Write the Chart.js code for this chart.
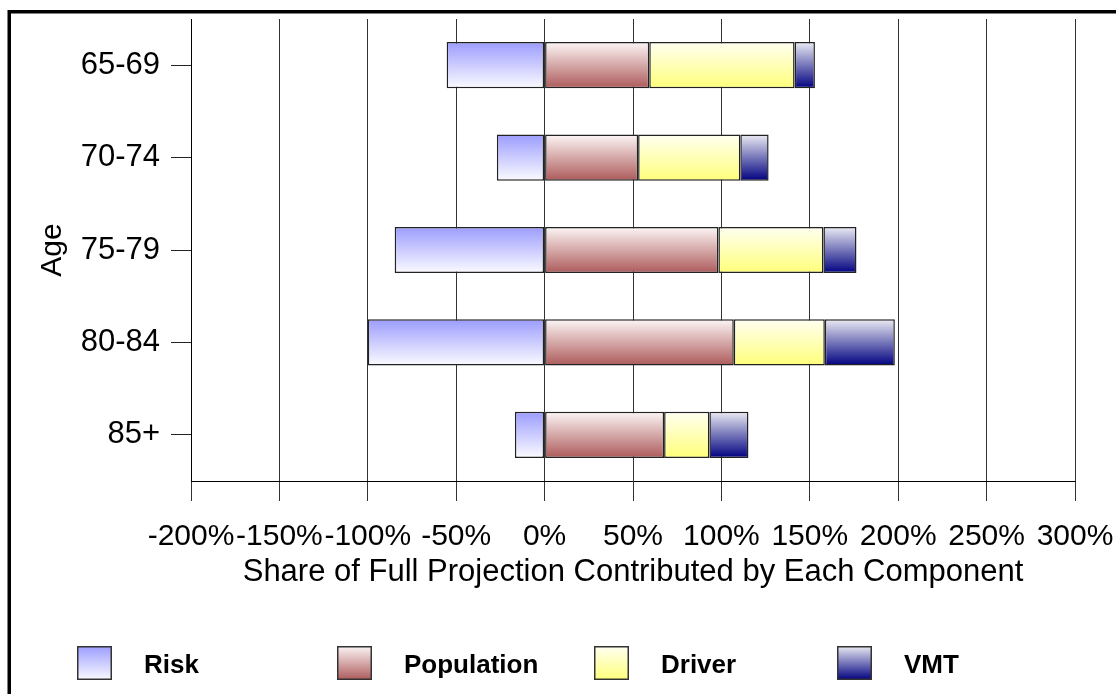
<!DOCTYPE html>
<html><head><meta charset="utf-8">
<script src="https://cdn.jsdelivr.net/npm/chart.js@4"></script>
<style>html,body{margin:0;padding:0;background:#fff;}#wrap{width:1116px;height:694px;position:relative;}</style>
</head><body><div id="wrap"><canvas id="c" width="1116" height="694"></canvas></div>
<script>
const ageGroups = ['65-69', '70-74', '75-79', '80-84', '85+'];
const seriesNames = ['Risk', 'Population', 'Driver', 'VMT'];
const riskValues = [-55.4, -27.0, -84.8, -100.0, -16.8];
const populationValues = [59.2, 52.9, 98.3, 107.0, 67.6];
const driverValues = [82.2, 57.8, 59.4, 51.5, 25.6];
const vmtValues = [11.5, 16.0, 18.7, 39.6, 22.1];
const xTickValues = [-200, -150, -100, -50, 0, 50, 100, 150, 200, 250, 300];

const gradStops = [
  ['#9c9cff', '#fbfbff'],
  ['#fdf6f6', '#ad5a5a'],
  ['#fffff2', '#ffff7a'],
  ['#ececf4', '#000080']
];
const fontFam = "'Liberation Sans', Arial, Helvetica, sans-serif";

function barGradient(i) {
  return function (ctx) {
    const chart = ctx.chart;
    const ys = chart.scales.y;
    if (!ys || !chart.chartArea || ctx.type !== 'data') return gradStops[i][1];
    const yc = ys.getPixelForValue(ctx.dataIndex);
    const half = ys.height / ageGroups.length * 0.25;
    const g = chart.ctx.createLinearGradient(0, yc - half, 0, yc + half);
    g.addColorStop(0, gradStops[i][0]);
    g.addColorStop(1, gradStops[i][1]);
    return g;
  };
}

const seriesData = [riskValues, populationValues, driverValues, vmtValues];
const datasets = seriesNames.map((name, i) => ({
  label: name,
  data: seriesData[i],
  backgroundColor: barGradient(i),
  borderColor: '#222',
  borderWidth: 1.5,
  borderSkipped: false,
  categoryPercentage: 1,
  barPercentage: 0.5
}));

const framePlugin = {
  id: 'frame',
  beforeDraw(chart) {
    const c = chart.ctx;
    c.save();
    c.fillStyle = '#fff';
    c.fillRect(0, 0, chart.width, chart.height);
    c.restore();
  },
  afterDraw(chart) {
    const c = chart.ctx;
    c.save();
    c.strokeStyle = '#000';
    c.lineWidth = 3.5;
    c.strokeRect(9.25, 11.75, 1300, 900);
    const xs = [77, 337, 594, 837];
    chart.data.datasets.forEach((ds, i) => {
      const x = xs[i], y = 646, w = 35, h = 34;
      const g = c.createLinearGradient(0, y, 0, y + h);
      g.addColorStop(0, gradStops[i][0]);
      g.addColorStop(1, gradStops[i][1]);
      c.fillStyle = g;
      c.fillRect(x, y, w, h);
      c.strokeStyle = '#333';
      c.lineWidth = 1.5;
      c.strokeRect(x + 0.75, y + 0.75, w - 1.5, h - 1.5);
      c.fillStyle = '#000';
      c.font = 'bold 26px ' + fontFam;
      c.textBaseline = 'alphabetic';
      c.textAlign = 'left';
      c.fillText(ds.label, x + 67, 673);
    });
    c.restore();
  }
};

new Chart(document.getElementById('c'), {
  type: 'bar',
  data: { labels: ageGroups, datasets: datasets },
  options: {
    indexAxis: 'y',
    responsive: false,
    animation: false,
    layout: { padding: { left: 10, right: 41, top: 19, bottom: 103 } },
    plugins: { legend: { display: false }, tooltip: { enabled: false } },
    scales: {
      x: {
        stacked: true,
        min: -200,
        max: 300,
        afterBuildTicks: s => { s.ticks = xTickValues.map(v => ({ value: v })); },
        afterFit: s => { s.height = 110; s.paddingLeft = 0; s.paddingRight = 0; },
        grid: { color: '#333', lineWidth: 1, tickLength: 20, drawTicks: true, tickColor: '#333' },
        border: { display: true, color: '#000', width: 1 },
        ticks: {
          autoSkip: false, maxRotation: 0, minRotation: 0, padding: 18,
          color: '#000', font: { family: fontFam, size: 30 },
          callback: v => v + '%'
        },
        title: {
          display: true, text: 'Share of Full Projection Contributed by Each Component',
          color: '#000', font: { family: fontFam, size: 31 }, padding: { top: 0, bottom: 0 }
        }
      },
      y: {
        stacked: true,
        afterFit: s => { s.width = 181; s.paddingTop = 0; s.paddingBottom = 0; },
        grid: { drawOnChartArea: false, offset: false, tickLength: 20, color: '#222', tickColor: '#222' },
        border: { display: true, color: '#000', width: 1 },
        ticks: { padding: 11, color: '#000', font: { family: fontFam, size: 31 } },
        title: {
          display: true, text: 'Age', color: '#000',
          font: { family: fontFam, size: 30 }, padding: { top: 25, bottom: 0 }
        }
      }
    }
  },
  plugins: [framePlugin]
});
</script>
</body></html>
